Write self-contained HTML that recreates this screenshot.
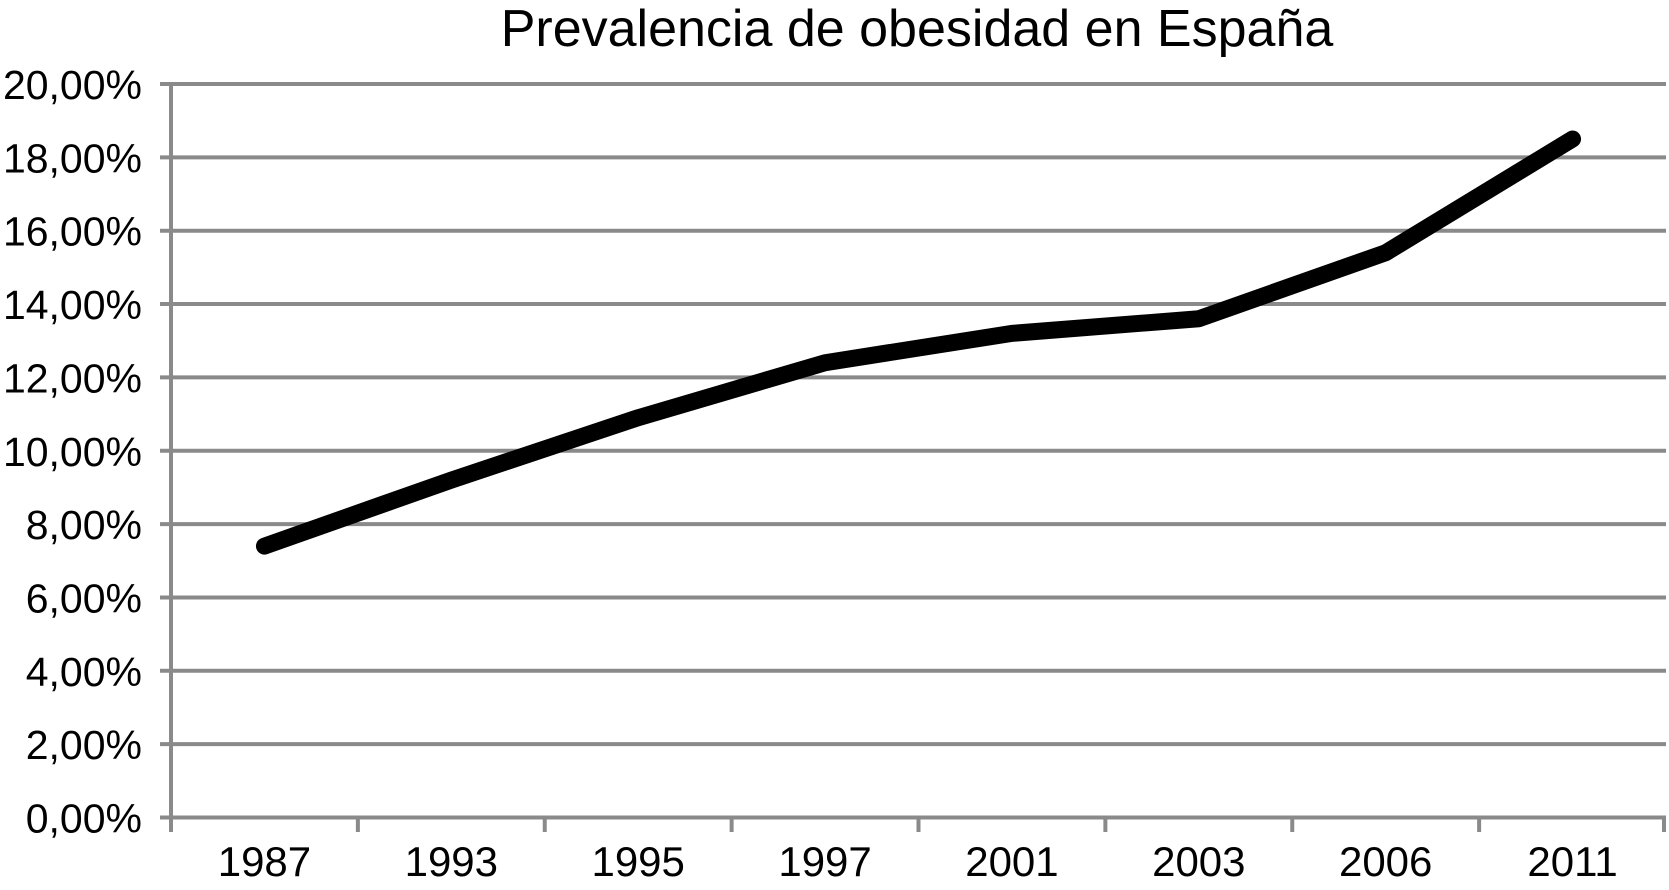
<!DOCTYPE html>
<html><head><meta charset="utf-8"><style>
body{margin:0;background:#fff}
svg text{font-family:"Liberation Sans",Arial,sans-serif;fill:#000}
</style></head><body>
<svg id="chart" width="1669" height="885" xmlns="http://www.w3.org/2000/svg">
<text x="917" y="46" font-size="52" text-anchor="middle">Prevalencia de obesidad en España</text>
<g id="grid"></g><g id="axes"></g><g id="series"></g>
</svg>
<script>
const categories=["1987","1993","1995","1997","2001","2003","2006","2011"];
const values=[7.4,9.2,10.9,12.4,13.2,13.6,15.4,18.5];
const yTicks=[0,2,4,6,8,10,12,14,16,18,20];
const yTickLabels=["0,00%","2,00%","4,00%","6,00%","8,00%","10,00%","12,00%","14,00%","16,00%","18,00%","20,00%"];
const NS="http://www.w3.org/2000/svg";
const x0=171,x1=1666,yTop=84,yBot=817.5;
const band=(x1-x0)/categories.length;
function xs(i){return x0+band*(i+0.5);}
function ys(v){return yBot-(v/20)*(yBot-yTop);}
function mk(tag,attrs,parent){const e=document.createElementNS(NS,tag);for(const k in attrs)e.setAttribute(k,attrs[k]);parent.appendChild(e);return e;}
const grid=document.getElementById('grid'),axes=document.getElementById('axes'),series=document.getElementById('series');
yTicks.forEach((t,i)=>{
  const l=mk('line',{x1:160,x2:x1,y1:ys(t),y2:ys(t),stroke:'#8a8a8a','stroke-width':4},grid);
  
  
  const tx=mk('text',{x:142,y:ys(t)+15,'font-size':41,'text-anchor':'end'},axes);
  tx.textContent=yTickLabels[i];
  
  
});
const ya=mk('line',{x1:x0,x2:x0,y1:yTop,y2:832,stroke:'#8a8a8a','stroke-width':4},axes);


for(let i=0;i<=categories.length;i++){
  const xx=Math.min(x0+band*i,x1-2);
  const tk=mk('line',{x1:xx,x2:xx,y1:yBot,y2:832,stroke:'#8a8a8a','stroke-width':4},axes);
  
  
}
categories.forEach((c,i)=>{
  const tx=mk('text',{x:xs(i),y:876,'font-size':42,'text-anchor':'middle'},axes);
  tx.textContent=c;
  
  
});
const pts=values.map((v,i)=>xs(i)+','+ys(v)).join(' ');
const pl=mk('polyline',{points:pts,fill:'none',stroke:'#000','stroke-width':17,'stroke-linejoin':'round','stroke-linecap':'round'},series);


</script>
</body></html>
